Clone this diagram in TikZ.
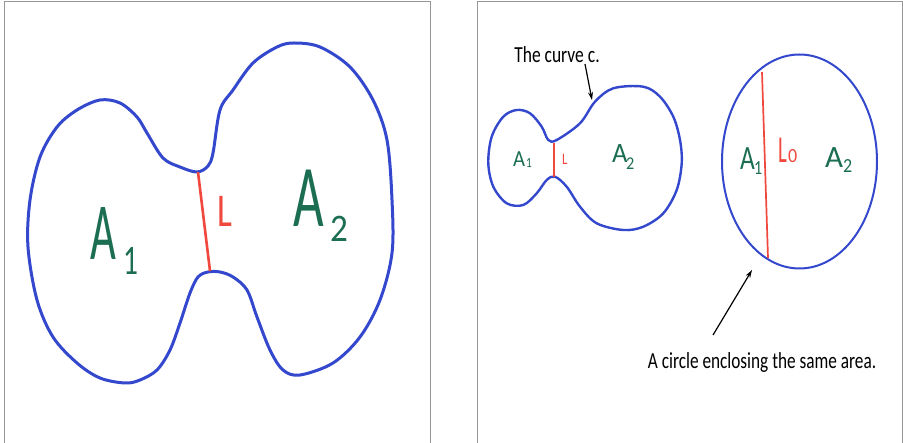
\documentclass[tikz,border=0pt]{standalone}
\usepackage{fontspec}
\usepackage{graphicx}
\usetikzlibrary{arrows.meta}
\setmainfont{Carlito}
\newfontfamily\handfont{Carlito}
\newcommand\hw[3]{{\handfont\fontsize{#1}{#1}\selectfont\scalebox{#2}[1]{#3}}}
\definecolor{curveblue}{RGB}{52,72,205}
\definecolor{cutred}{RGB}{240,72,60}
\definecolor{handgreen}{RGB}{28,110,82}
\definecolor{framegray}{RGB}{150,150,150}
\tikzset{
  panel/.style={draw=framegray, line width=1pt},
  bigcurve/.style={draw=curveblue, line width=3pt, line join=round},
  smallcurve/.style={draw=curveblue, line width=2.4pt, line join=round},
  circcurve/.style={draw=curveblue, line width=2pt},
  cutline/.style={draw=cutred, line width=2.6pt},
  handtext/.style={text=handgreen, inner sep=0pt, anchor=base west},
  handred/.style={text=cutred, inner sep=0pt, anchor=base west},
  caption/.style={inner sep=0pt, font=\fontsize{23}{23}\selectfont},
  pointer/.style={draw=black, line width=1.2pt, -{Stealth[length=8pt,width=5pt]}}
}
\begin{document}
\begin{tikzpicture}[x=1pt,y=-1pt]
\useasboundingbox (0,0) rectangle (903,443);
\fill[white] (0,0) rectangle (903,443);
% panels
\draw[panel] (4,443) -- (4,2) -- (430,2) -- (430,443);
\draw[panel] (477,443) -- (477,2) -- (902,2) -- (902,443);
% left big shape
\draw[bigcurve] plot[smooth cycle, tension=0.55] coordinates {
 (100,100) (120,103) (137,117) (147,133) (163,158) (180,167) (197,172)
 (208,166) (213,153) (220,110) (233,90) (253,63) (277,47) (294,43) (320,47)
 (350,67) (373,100) (387,140) (392,200) (392,253) (380,300) (360,337)
 (333,363) (300,375) (283,370) (270,350) (257,317) (247,290) (233,277)
 (220,272) (208,272) (198,277) (190,293) (180,323) (170,350) (157,370)
 (140,380) (125,383) (100,378) (77,363) (53,337) (37,300) (28,247)
 (30,200) (40,157) (57,127) (77,110)};
\coordinate (Ltop) at (198,172);
\coordinate (Lbot) at (210,271);
\draw[cutline] (Ltop) -- (Lbot);
\node[handtext] (bigA1) at (90,260) {\hw{81}{0.55}{A}};
\node[handtext] (bigA1s) at (123,275) {\hw{42}{0.7}{1}};
\node[handtext] (bigA2) at (293,227) {\hw{88}{0.6}{A}};
\node[handtext] (bigA2s) at (330,242) {\hw{39}{0.9}{2}};
\node[handred] (bigL) at (217,227) {\hw{47}{0.75}{L}};
% right small shape
\draw[smallcurve] plot[smooth cycle, tension=0.55] coordinates {
 (556.7,140) (580,123.3) (595,101.7) (613.3,88.3) (643.3,86.7) (660,96.7)
 (673.3,116.7) (680,140) (681.7,163.3) (676.7,190) (663.3,213.3)
 (643.3,226.7) (623.3,230) (596.7,223.3) (580,206.7) (566.7,186.7)
 (555,176.7) (546.7,180) (536.7,193.3) (523.3,205) (506.7,203.3)
 (493.3,186.7) (488.3,163.3) (491.7,136.7) (503.3,116.7) (516.7,110)
 (530,113.3) (541.7,126.7) (548.3,140)};
\coordinate (ltop) at (554,143);
\coordinate (lbot) at (554,177);
\draw[cutline, line width=1.6pt] (ltop) -- (lbot);
\node[handtext] (smA1) at (513,167) {\hw{23}{0.9}{A}};
\node[handtext] (smA1s) at (526,168) {\hw{14}{0.8}{1}};
\node[handred] (smL) at (562,165) {\hw{16}{0.8}{L}};
\node[handtext] (smA2) at (612,163) {\hw{28}{0.95}{A}};
\node[handtext] (smA2s) at (626,170) {\hw{18}{0.9}{2}};
% circle
\draw[circcurve] (799.5,161.5) ellipse [x radius=77.5, y radius=107];
\coordinate (l0top) at (762,72);
\coordinate (l0bot) at (768,258);
\draw[cutline, line width=1.7pt] (l0top) -- (l0bot);
\node[handtext] (cA1) at (740,170) {\hw{34}{0.75}{A}};
\node[handtext] (cA1s) at (754,175) {\hw{20}{0.8}{1}};
\node[handred] (cL) at (778,163) {\hw{38}{0.55}{L}};
\node[handred] (cLs) at (788,163) {\hw{20}{0.9}{0}};
\node[handtext] (cA2) at (825,168) {\hw{31}{1.0}{A}};
\node[handtext] (cA2s) at (843,173) {\hw{20}{0.9}{2}};
% captions and pointers
\node[caption] (capc) at (557,55) {\scalebox{0.76}[1]{The curve c.}};
\coordinate (ctip) at (592,100);
\draw[pointer] (585,64) -- (ctip);
\node[caption] (capo) at (762,362) {\scalebox{0.75}[1]{A circle enclosing the same area.}};
\coordinate (otip) at (752,270);
\coordinate (otail) at (713,335);
\draw[pointer] (otail) -- (otip);
\end{tikzpicture}
\end{document}
